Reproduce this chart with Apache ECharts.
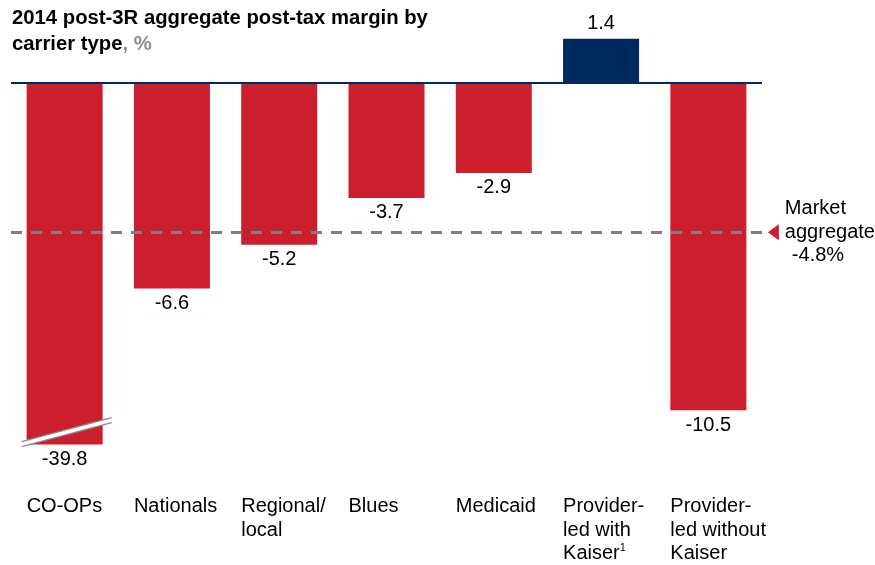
<!DOCTYPE html>
<html>
<head>
<meta charset="utf-8">
<script src="https://cdn.jsdelivr.net/npm/echarts@6/dist/echarts.min.js"></script>
<style>
  html, body { margin: 0; padding: 0; background: #fff; }
  #chart { width: 875px; height: 565px; }
</style>
</head>
<body>
<div id="chart"></div>
<script>
// carrier types, one per bar
const categories = ['CO-OPs', 'Nationals', 'Regional/\nlocal', 'Blues', 'Medicaid', 'Provider-\nled with\nKaiser', 'Provider-\nled without\nKaiser'];
const footnotes = ['', '', '', '', '', '1', ''];
// post-tax margin, %
const margins = [-39.8, -6.6, -5.2, -3.7, -2.9, 1.4, -10.5];
const marketAggregate = -4.8;
// the CO-OPs bar is cut at this value (broken bar)
const breakCap = -11.6;

const RED = '#CC1F2E';
const NAVY = '#002960';
const FONT = 'Liberation Sans, Arial, sans-serif';

const chart = echarts.init(document.getElementById('chart'));

chart.setOption({
  animation: false,
  title: {
    left: 7,
    top: 0,
    text: '{b|2014 post-3R aggregate post-tax margin by}\n{b|carrier type}{g|, %}',
    textStyle: {
      rich: {
        b: { fontFamily: FONT, fontSize: 20.3, fontWeight: 'bold', color: '#000', lineHeight: 26 },
        g: { fontFamily: FONT, fontSize: 20.3, color: '#8c8c8c', lineHeight: 26 },
      },
    },
  },
  grid: { left: 11, right: 113, top: 20, height: 437 },
  xAxis: {
    type: 'category',
    data: categories,
    axisLine: { show: false },
    axisTick: { show: false },
    axisLabel: {
      interval: 0,
      margin: 38,
      width: 76,
      formatter: (val, idx) => {
        let lines = val.split('\n').map((l) => '{a|' + l + '}');
        let txt = lines.join('\n');
        if (footnotes[idx]) txt += '{s|' + footnotes[idx] + '}';
        return txt;
      },
      rich: {
        a: { fontFamily: FONT, fontSize: 20, color: '#000', lineHeight: 23.5, align: 'left' },
        s: { fontFamily: FONT, fontSize: 11, color: '#000', lineHeight: 23.5, align: 'left', verticalAlign: 'top' },
      },
    },
  },
  yAxis: {
    type: 'value',
    min: -12,
    max: 2,
    show: false,
    splitLine: { show: false },
  },
  series: [
    {
      type: 'bar',
      z: 2,
      barWidth: 76,
      data: margins.map((v) => ({
        value: Math.max(v, breakCap),
        itemStyle: { color: v < 0 ? RED : NAVY },
        label: { position: v < 0 ? 'bottom' : 'top' },
      })),
      label: {
        show: true,
        distance: 5,
        fontFamily: FONT,
        fontSize: 20,
        color: '#000',
        formatter: (p) => margins[p.dataIndex].toFixed(1),
      },
    },
    {
      // zero line and market aggregate line, over the bars
      type: 'line',
      data: [],
      z: 3,
      markLine: {
        silent: true,
        symbol: 'none',
        label: { show: false },
        data: [
          { yAxis: 0, lineStyle: { color: NAVY, type: 'solid', width: 2 } },
          { yAxis: marketAggregate, lineStyle: { color: '#7f7f7f', type: [11, 9], width: 3 } },
        ],
      },
    },
  ],
});

// annotations placed from the chart's own scales
const aggY = chart.convertToPixel({ yAxisIndex: 0 }, marketAggregate);
const gridRight = chart.convertToPixel({ xAxisIndex: 0 }, categories.length - 1) + 53.5;
const cut = chart.convertToPixel({ seriesIndex: 0 }, [0, breakCap]);
const cx = cut[0], by = cut[1];

chart.setOption({
  graphic: [
    {
      type: 'polygon',
      z: 100,
      shape: { points: [[gridRight + 6, aggY], [gridRight + 17, aggY - 8], [gridRight + 17, aggY + 8]] },
      style: { fill: RED },
    },
    {
      type: 'text',
      z: 100,
      x: gridRight + 23,
      y: aggY,
      style: {
        text: '{a|Market}\n{a|aggregate}\n{b|-4.8%}',
        align: 'left',
        verticalAlign: 'middle',
        rich: {
          a: { fontFamily: FONT, fontSize: 20, color: '#000', lineHeight: 23.5 },
          b: { fontFamily: FONT, fontSize: 20, color: '#000', lineHeight: 23.5, padding: [0, 0, 0, 7] },
        },
      },
    },
    {
      // break slash across the CO-OPs bar
      type: 'polygon',
      z: 100,
      shape: { points: [[cx - 43, by - 3], [cx + 47, by - 27], [cx + 47, by - 22], [cx - 43, by + 2]] },
      style: { fill: '#fff' },
    },
    {
      type: 'line',
      z: 101,
      shape: { x1: cx - 43, y1: by - 3, x2: cx + 47, y2: by - 27 },
      style: { stroke: '#8a8a8a', lineWidth: 1.3 },
    },
    {
      type: 'line',
      z: 101,
      shape: { x1: cx - 43, y1: by + 2, x2: cx + 47, y2: by - 22 },
      style: { stroke: '#8a8a8a', lineWidth: 1.3 },
    },
  ],
});
</script>
</body>
</html>
